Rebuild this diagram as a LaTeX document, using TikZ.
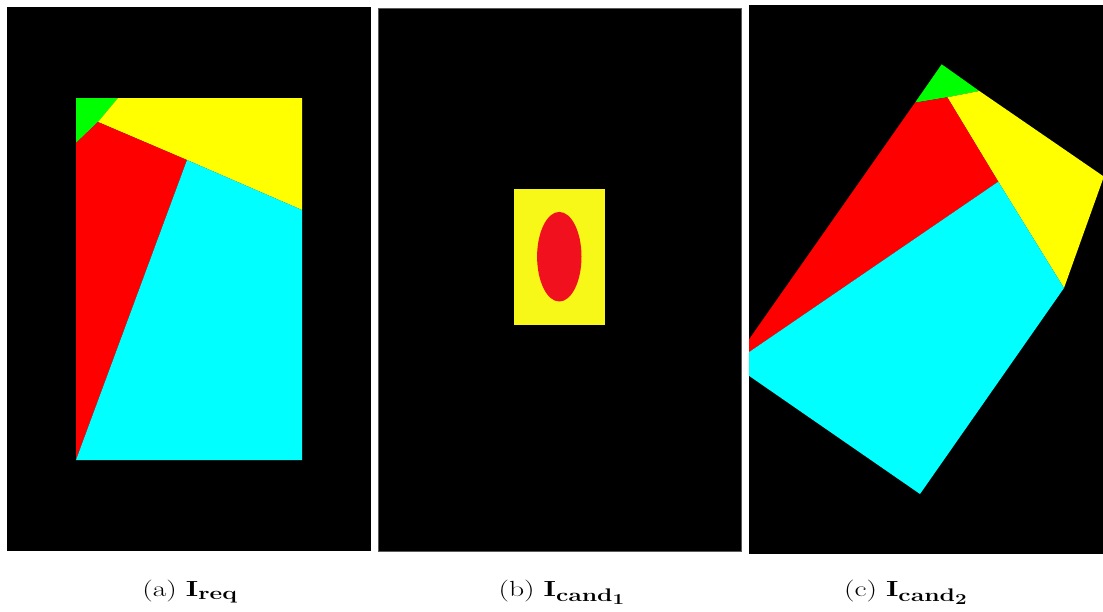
\documentclass[tikz,border=0pt]{standalone}
\definecolor{pgreen}{RGB}{0,255,0}
\definecolor{pyellow}{RGB}{255,255,0}
\definecolor{pred}{RGB}{255,0,0}
\definecolor{pcyan}{RGB}{0,255,255}
\definecolor{byellow}{RGB}{248,248,24}
\definecolor{bred}{RGB}{240,16,30}
\newcommand{\widecap}[1]{\scalebox{1.19}[0.88]{\Huge #1}}
\tikzset{
  panel/.style={fill=black},
  captext/.style={anchor=base, inner sep=0pt}
}
\begin{document}
\begin{tikzpicture}[x=1pt,y=-1pt]
\useasboundingbox[fill=white] (0,0) rectangle (1103,611);
% panel a
\fill[panel] (7,7) rectangle (371,551);
\fill[pgreen] (76,98) -- (118,98) -- (98,122) -- (76,143) -- cycle;
\fill[pyellow] (118,98) -- (302,98) -- (302,210) -- (187,160) -- (98,122) -- cycle;
\fill[pred] (76,143) -- (98,122) -- (187,160) -- (76,460) -- cycle;
\fill[pcyan] (187,160) -- (302,210) -- (302,460) -- (76,460) -- cycle;
% panel b
\fill[panel] (378,8) rectangle (741,551);
\draw[black!65, line width=0.8pt] (378,8) rectangle (741,551);
\fill[byellow] (514,189) rectangle (605,325);
\fill[bred] (559.3,256.7) ellipse [x radius=22.2, y radius=44.8];
% panel c
\fill[panel] (749,5) rectangle (1103,554);
\begin{scope}
\clip (749,5) rectangle (1103,554);
\fill[pgreen] (941.7,64.3) -- (979.3,91) -- (947.3,97.3) -- (915,102.7) -- cycle;
\fill[pyellow] (979.3,91) -- (1103,176) -- (1103,179) -- (1064,288) -- (998.3,181.7) -- (947.3,97.3) -- cycle;
\fill[pred] (915,102.7) -- (947.3,97.3) -- (998.3,181.7) -- (731.8,363.9) -- cycle;
\fill[pcyan] (998.3,181.7) -- (1064,288) -- (920,494) -- (731.8,363.9) -- cycle;
\end{scope}
% captions
\node[captext] (capa) at (190,596) {\widecap{(a) $\mathbf{I_{req}}$}};
\node[captext] (capb) at (562,596) {\widecap{(b) $\mathbf{I_{cand_1}}$}};
\node[captext] (capc) at (906,596) {\widecap{(c) $\mathbf{I_{cand_2}}$}};
\end{tikzpicture}
\end{document}
